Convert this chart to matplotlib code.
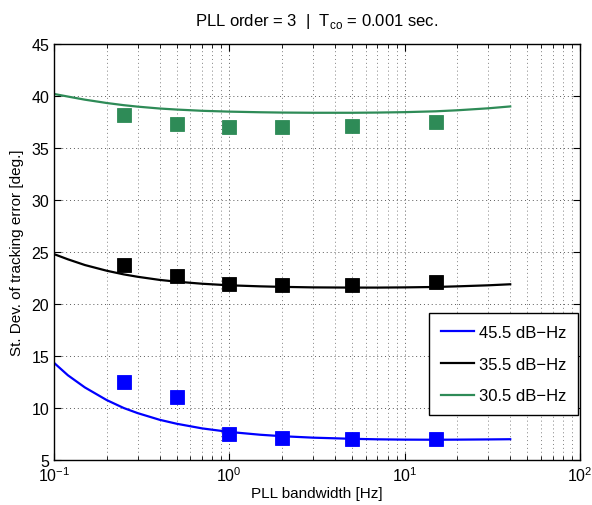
import numpy as np
import matplotlib
matplotlib.use('Agg')
import matplotlib.pyplot as plt

plt.rcParams['font.family'] = ['Liberation Sans', 'DejaVu Sans']
plt.rcParams['mathtext.fontset'] = 'custom'
plt.rcParams['mathtext.rm'] = 'Liberation Sans'

# curves
bw_curve = [0.1, 0.12, 0.15, 0.2, 0.25, 0.3, 0.4, 0.5, 0.7, 1, 1.5, 2, 3, 5, 7, 10, 15, 20, 30, 40]
sd_45 = [14.35, 13.15, 11.98, 10.76, 10.0, 9.51, 8.87, 8.49, 8.04, 7.7, 7.43, 7.29, 7.15, 7.04, 6.99, 6.96, 6.95, 6.96, 6.98, 7.0]
sd_35 = [24.8, 24.3, 23.75, 23.2, 22.85, 22.62, 22.32, 22.15, 21.95, 21.8, 21.7, 21.65, 21.6, 21.58, 21.58, 21.6, 21.64, 21.7, 21.8, 21.9]
sd_30 = [40.2, 39.95, 39.65, 39.33, 39.12, 38.98, 38.8, 38.7, 38.58, 38.5, 38.44, 38.41, 38.39, 38.39, 38.41, 38.45, 38.53, 38.63, 38.82, 39.0]

# simulation points
bw_pts = [0.25, 0.5, 1, 2, 5, 15]
pts_45 = [12.5, 11.1, 7.5, 7.1, 7.0, 7.0]
pts_35 = [23.8, 22.7, 21.95, 21.85, 21.85, 22.1]
pts_30 = [38.2, 37.3, 37.05, 37.0, 37.1, 37.55]

labels = ['45.5 dB\u2212Hz', '35.5 dB\u2212Hz', '30.5 dB\u2212Hz']
colors = ['#0000ff', '#000000', '#2e8b57']

fig = plt.figure(figsize=(5.92, 5.06), dpi=100)
ax = fig.add_axes([0.0912, 0.0889, 0.8885, 0.8221])

for curve, pts, lab, c in zip([sd_45, sd_35, sd_30], [pts_45, pts_35, pts_30], labels, colors):
    ax.plot(bw_curve, curve, color=c, lw=1.6, label=lab)
    ax.plot(bw_pts, pts, 's', color=c, ms=10.5, mec=c, mew=0.6)

ax.set_xscale('log')
ax.set_xlim(0.1, 100)
ax.set_ylim(5, 45)
ax.set_yticks(np.arange(5, 46, 5))
ax.grid(True, which='major', ls=(0, (1, 3)), color='0.35', lw=0.7)
ax.grid(True, which='minor', axis='x', ls=(0, (1, 3)), color='0.5', lw=0.7)
ax.tick_params(which='both', direction='in', top=True, right=True, labelsize=11.5)
ax.tick_params(which='major', length=5)
ax.tick_params(which='minor', length=3)
for s in ax.spines.values():
    s.set_linewidth(1.0)

ax.set_xlabel('PLL bandwidth [Hz]', fontsize=11, labelpad=2)
ax.set_ylabel('St. Dev. of tracking error [deg.]', fontsize=11, labelpad=5)
ax.set_title(r'PLL order = 3  $|$  T$_{\mathrm{co}}$ = 0.001 sec.', fontsize=12, pad=14)

leg = ax.legend(loc='lower right', bbox_to_anchor=(0.996, 0.108), fontsize=12, fancybox=False,
                edgecolor='black', framealpha=1, borderaxespad=0, borderpad=0.7,
                handlelength=2.0, labelspacing=1.0, handletextpad=0.3)
leg.get_frame().set_linewidth(1.0)

fig.savefig('out.png', dpi=100)
